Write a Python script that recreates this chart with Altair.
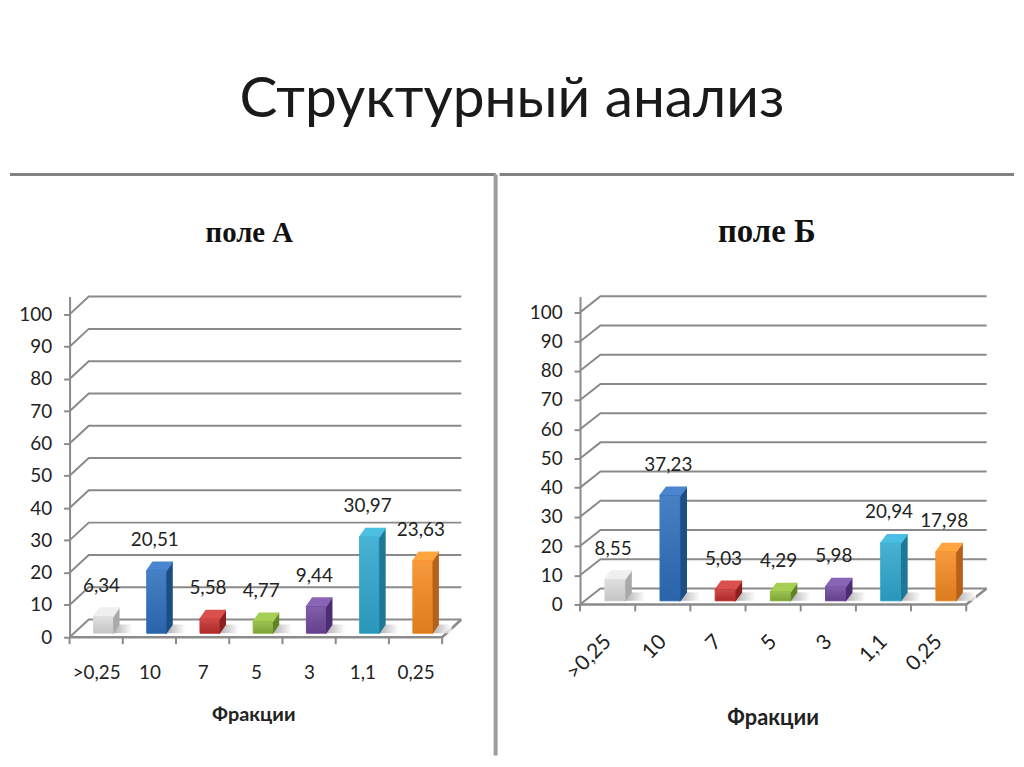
import json
import altair as alt
import pandas as pd

TITLE = "Структурный анализ"
CATEGORIES = [">0,25", "10", "7", "5", "3", "1,1", "0,25"]
VALUES_A = [6.34, 20.51, 5.58, 4.77, 9.44, 30.97, 23.63]
VALUES_B = [8.55, 37.23, 5.03, 4.29, 5.98, 20.94, 17.98]
LABELS_A = ["6,34", "20,51", "5,58", "4,77", "9,44", "30,97", "23,63"]
LABELS_B = ["8,55", "37,23", "5,03", "4,29", "5,98", "20,94", "17,98"]
FRONT = ["#dcdcdc", "#2f6fbd", "#c4302f", "#8cb83c", "#71499e", "#2fa8cf", "#f68b22"]
SIDE = ["#a9a9a9", "#1e4d86", "#8a2120", "#5f8428", "#4a2e70", "#1c7895", "#b5611a"]
TOP = ["#efefef", "#4a86d0", "#d9504c", "#a6cf55", "#8a64b5", "#4cc0e2", "#ffa540"]
TICKS = list(range(0, 101, 10))
EDGES = list(range(0, 8))
GRID = "#8a8a8a"
FONT = "Lato"

BASE = 1.25      # bar foot above the floor front edge
X0, X1 = 0.45, 0.81  # front face inside a category slot


def panel(values, labels, name, width, height, ymax, xmax, depth_x, depth_y, bar_dx, bar_dy,
          font_size, x_label_size, title_size, title_x, label_angle, label_padding,
          title_padding, axis_title_size, axis_title_x, rule_x, rule_left, rule_bottom, rule_top):
    x_s = alt.Scale(domain=[0, xmax], nice=False, zero=False)
    y_s = alt.Scale(domain=[0, ymax], nice=False, zero=False)
    x_axis = alt.Axis(
        values=[i + 0.5 for i in range(len(values))],
        labelExpr="%s[round(datum.value - 0.5)]" % json.dumps(CATEGORIES, ensure_ascii=False),
        tickSize=0, domain=False, grid=False, labelAngle=label_angle,
        labelAlign="right" if label_angle else "center",
        labelBaseline="middle" if label_angle else "top",
        labelFont=FONT, labelFontSize=x_label_size, labelColor="#222222", labelPadding=label_padding,
        labelOverlap=False, labelFlush=False,
        title="Фракции", titleFont=FONT, titleFontSize=axis_title_size, titleFontWeight="bold",
        titleColor="#222222", titlePadding=title_padding, titleX=axis_title_x, titleAnchor="middle")
    y_axis = alt.Axis(
        values=TICKS, domainColor=GRID, domainWidth=2, tickColor=GRID, tickWidth=2, tickSize=6,
        grid=False, labelFont=FONT, labelFontSize=font_size, labelColor="#222222",
        labelPadding=12, title=None, format="d", labelOverlap=False)
    X = lambda f: alt.X(f, scale=x_s, axis=x_axis)
    Y = lambda f: alt.Y(f, scale=y_s, axis=y_axis)
    n = len(values)

    grid_rows = []
    for v in TICKS:
        grid_rows += [dict(g=v, x=0, y=v), dict(g=v, x=depth_x, y=v + depth_y), dict(g=v, x=n + depth_x, y=v + depth_y)]
    grid = alt.Chart(pd.DataFrame(grid_rows)).mark_line(color=GRID, strokeWidth=2).encode(
        x=X("x:Q"), y=Y("y:Q"), detail="g:N")

    floor_rows = [dict(g=0, x=0, y=0), dict(g=0, x=n, y=0), dict(g=0, x=n + depth_x, y=depth_y)]
    floor = alt.Chart(pd.DataFrame(floor_rows)).mark_line(color=GRID, strokeWidth=2.5).encode(
        x=X("x:Q"), y=Y("y:Q"))

    ticks_df = pd.DataFrame({"x": EDGES, "y": 0.0, "y2": -7 / (height / ymax)})
    ticks = alt.Chart(ticks_df).mark_rule(color=GRID, strokeWidth=2).encode(
        x=X("x:Q"), y=Y("y:Q"), y2="y2:Q")

    bars = pd.DataFrame({
        "i": range(n), "v": values, "label": labels, "front": FRONT, "side": SIDE, "top": TOP,
    })
    bars["x0"] = bars.i + X0
    bars["x1"] = bars.i + X1
    bars["lx"] = bars.i + 0.6
    bars["base"] = BASE
    bars["sx1"] = bars.x1 + bar_dx * 3.2
    bars["sy0"] = BASE
    bars["sy1"] = BASE + bar_dy

    shadow = alt.Chart(bars).mark_rect(
        fill=alt.Gradient(gradient="linear", x1=0, x2=1, y1=0, y2=0,
                          stops=[alt.GradientStop(color="#9a9a9a", offset=0),
                                 alt.GradientStop(color="#ffffff", offset=1)]),
        opacity=0.8).encode(
        x=X("x1:Q"), x2="sx1:Q", y=Y("sy0:Q"), y2="sy1:Q")

    side_rows, top_rows = [], []
    for r in bars.itertuples():
        side_rows += [dict(i=r.i, c=r.side, x=r.x1, y=BASE, y2=r.v),
                      dict(i=r.i, c=r.side, x=r.x1 + bar_dx, y=BASE + bar_dy, y2=r.v + bar_dy)]
        top_rows += [dict(i=r.i, c=r.top, y=r.v, x=r.x0, x2=r.x1),
                     dict(i=r.i, c=r.top, y=r.v + bar_dy, x=r.x0 + bar_dx, x2=r.x1 + bar_dx)]
    side = alt.Chart(pd.DataFrame(side_rows)).mark_area(strokeWidth=1.5, strokeJoin="round").encode(
        x=X("x:Q"), y=Y("y:Q"), y2="y2:Q",
        fill=alt.Fill("c:N", scale=None), stroke=alt.Stroke("c:N", scale=None), detail="i:N")
    top = alt.Chart(pd.DataFrame(top_rows)).mark_area(orient="horizontal", strokeWidth=1.5, strokeJoin="round").encode(
        x=X("x:Q"), x2="x2:Q", y=Y("y:Q"),
        fill=alt.Fill("c:N", scale=None), stroke=alt.Stroke("c:N", scale=None), detail="i:N")
    front = alt.Chart(bars).mark_rect(strokeWidth=1).encode(
        x=X("x0:Q"), x2="x1:Q", y=Y("base:Q"), y2="v:Q",
        fill=alt.Fill("front:N", scale=None), stroke=alt.Stroke("front:N", scale=None))
    sheen = alt.Chart(bars).mark_rect(
        fill=alt.Gradient(gradient="linear", x1=0, x2=0, y1=0, y2=1,
                          stops=[alt.GradientStop(color="rgba(255,255,255,0.12)", offset=0),
                                 alt.GradientStop(color="rgba(0,0,0,0.10)", offset=1)])).encode(
        x=X("x0:Q"), x2="x1:Q", y=Y("base:Q"), y2="v:Q")
    text = alt.Chart(bars).mark_text(font=FONT, fontSize=font_size, color="#222222", dy=-31).encode(
        x=X("lx:Q"), y=Y("v:Q"), text="label:N")

    one = pd.DataFrame({"name": [name]})
    heading = alt.Chart(one).mark_text(font="Liberation Serif", fontSize=title_size, fontWeight="bold",
                                       color="#111111", baseline="alphabetic").encode(
        x=alt.value(title_x), y=alt.value(-55), text="name:N")
    hline = alt.Chart(one).mark_rule(color="#828282", strokeWidth=3).encode(
        x=alt.value(rule_left), x2=alt.value(rule_x), y=alt.value(rule_top))
    layers = [grid, floor, ticks, shadow, side, top, front, sheen, text, heading, hline]
    if rule_bottom is not None:
        vline = alt.Chart(one).mark_rule(color="#9c9c9c", strokeWidth=4).encode(
            x=alt.value(rule_x), y=alt.value(rule_top), y2=alt.value(rule_bottom))
        layers.append(vline)
    return alt.layer(*layers).properties(width=width, height=height)


a = panel(VALUES_A, LABELS_A, "поле А", 395, 343, 105.5, 7.37, 0.36, 5.5, 0.115, 2.7,
          19, 19, 29, 181, 0, 27, 22, 20, 185, 429, -60, 462, -123)
b = panel(VALUES_B, LABELS_B, "поле Б", 410, 310, 105.4, 7.38, 0.37, 5.5, 0.115, 2.9,
          19, 21, 33, 188, 315, 34, 25, 22, 194, 437, -81, None, -123)

chart = alt.hconcat(a, b, spacing=0).properties(
    title=alt.TitleParams(TITLE, font="Lato", fontSize=57.2, fontWeight="normal", color="#1a1a1a",
                          anchor="middle", offset=44),
    padding={"left": 0, "right": 0, "top": 60, "bottom": 0},
    background="#ffffff",
).configure_view(stroke=None)

chart.save("out.html", embed_options={"renderer": "svg", "actions": False})
